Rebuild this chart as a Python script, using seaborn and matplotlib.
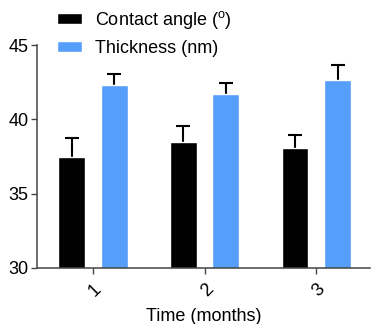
import numpy as np
import pandas as pd
import matplotlib
matplotlib.use("Agg")
import matplotlib.pyplot as plt
import seaborn as sns

months = ["1", "2", "3"]
series = ["Contact angle ($^{\\rm o}$)", "Thickness (nm)"]
contact_angle = [37.47, 38.50, 38.07]
contact_err = [1.30, 1.08, 0.90]
thickness = [42.28, 41.72, 42.62]
thickness_err = [0.74, 0.70, 1.05]

colors = ["#000000", "#559FFA"]

data = pd.DataFrame({
    "Time": months * 2,
    "Value": contact_angle + thickness,
    "Err": contact_err + thickness_err,
    "Series": [series[0]] * 3 + [series[1]] * 3,
})

sns.set_style("ticks", {"text.color": "black", "xtick.color": "black",
                        "ytick.color": "black", "axes.labelcolor": "black"})
plt.rcParams["font.family"] = ["Liberation Sans", "DejaVu Sans"]
plt.rcParams["mathtext.fontset"] = "custom"
plt.rcParams["mathtext.rm"] = "Liberation Sans"

fig = plt.figure(figsize=(3.71, 3.24), dpi=100)
ax = fig.add_axes([0.1, 0.173, 0.897, 0.688])

sns.barplot(ax=ax, data=data, x="Time", y="Value", hue="Series",
            hue_order=series, palette=colors, width=0.76, gap=0.37,
            errorbar=None, saturation=1, legend=True)

# upper-only error bars (hide the lower cap)
for series_name, bars in zip(series, ax.containers):
    sub = data[data["Series"] == series_name]
    xs = [b.get_x() + b.get_width() / 2 for b in bars]
    eb = ax.errorbar(xs, sub["Value"], yerr=[np.zeros(len(sub)), sub["Err"]],
                     fmt="none", ecolor="black", elinewidth=1.5, capsize=4.7,
                     capthick=1.5, zorder=0.5)
    eb[1][0].set_visible(False)

ax.set_ylim(30, 45)
ax.set_xlim(-0.5, 2.48)
ax.set_yticks([30, 35, 40, 45])
ax.set_ylabel(None)
ax.set_xlabel("Time (months)", fontsize=13, labelpad=6)
ax.tick_params(axis="both", labelsize=13, width=1, length=4, color="#444444", pad=2)
ax.tick_params(axis="x", pad=5)
plt.setp(ax.get_xticklabels(), rotation=45, ha="right", rotation_mode="anchor")
for s in ["left", "bottom"]:
    ax.spines[s].set_linewidth(1.1)
    ax.spines[s].set_color("#444444")
sns.despine(ax=ax)

sns.move_legend(ax, "upper left", bbox_to_anchor=(0.135, 0.995),
                bbox_transform=fig.transFigure, title=None, frameon=False,
                fontsize=13, handlelength=1.38, handleheight=0.55,
                handletextpad=0.7, labelspacing=0.5, borderaxespad=0)

fig.savefig("out.png", dpi=100)
